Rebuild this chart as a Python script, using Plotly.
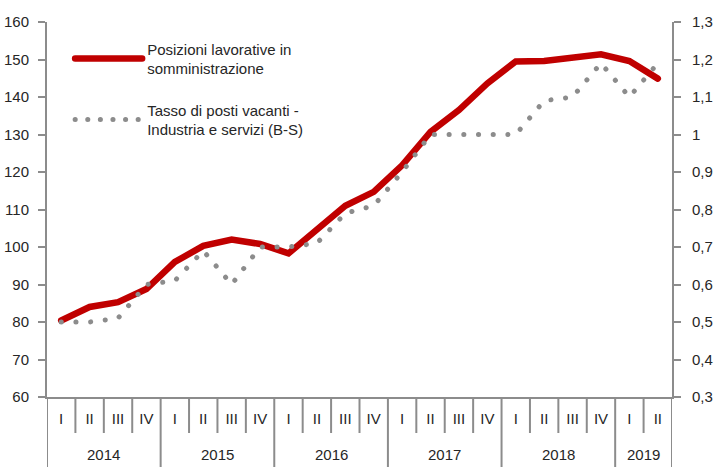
import plotly.graph_objects as go

years = ["2014", "2015", "2016", "2017", "2018", "2019"]
quarters_per_year = [4, 4, 4, 4, 4, 2]
quarter_names = ["I", "II", "III", "IV"]

posizioni = [80.4, 84.0, 85.3, 88.8, 96.0, 100.3, 102.0, 100.8, 98.3, 104.8, 111.0,
             114.7, 121.8, 130.7, 136.5, 143.6, 149.5, 149.6, 150.3, 151.4, 149.6, 144.9]
tasso = [0.50, 0.50, 0.51, 0.60, 0.61, 0.69, 0.60, 0.70, 0.70, 0.71, 0.79,
         0.81, 0.90, 1.00, 1.00, 1.00, 1.00, 1.09, 1.10, 1.19, 1.10, 1.19]

name_red = "Posizioni lavorative in<br>somministrazione"
name_gray = "Tasso di posti vacanti -<br>Industria e servizi (B-S)"

q_labels = []
year_of = []
for y, n in zip(years, quarters_per_year):
    for k in range(n):
        q_labels.append(quarter_names[k])
        year_of.append(y)
idx = list(range(len(q_labels)))

FONT = "Liberation Sans, Arial, sans-serif"
TXT = "#262626"
AX = "#8c8c8c"

fig = go.Figure()
fig.add_trace(go.Scatter(x=idx, y=posizioni, mode="lines", name=name_red,
                         line=dict(color="#c00000", width=6.5), legendgroup="a",
                         yaxis="y"))
fig.add_trace(go.Scatter(x=idx, y=tasso, mode="lines", name=name_gray,
                         line=dict(color="#8c8c8c", width=5, dash="5px,10px"),
                         legendgroup="b", yaxis="y2"))

# separators under the category axis
shapes = []
start = 0
bounds_year = [-0.5]
for n in quarters_per_year:
    start += n
    bounds_year.append(start - 0.5)
for b in [i - 0.5 for i in range(1, len(idx))]:
    if b in bounds_year:
        continue
    shapes.append(dict(type="line", xref="x", yref="paper", x0=b, x1=b, y0=0, y1=-0.096,
                       line=dict(color=AX, width=2)))
for b in bounds_year:
    shapes.append(dict(type="line", xref="x", yref="paper", x0=b, x1=b, y0=0, y1=-0.19,
                       line=dict(color=AX, width=2)))

annotations = []
start = 0
for y, n in zip(years, quarters_per_year):
    center = start + (n - 1) / 2
    annotations.append(dict(x=center, y=-0.154, xref="x", yref="paper", text=y,
                            showarrow=False, font=dict(family=FONT, size=15, color=TXT),
                            yanchor="middle"))
    start += n

fig.update_layout(
    width=727, height=467,
    margin=dict(l=47, r=55, t=22, b=70, autoexpand=False),
    paper_bgcolor="white", plot_bgcolor="white",
    separators=", ",
    font=dict(family=FONT, size=15, color=TXT),
    showlegend=True,
    legend=dict(x=0.037, y=0.972, xanchor="left", yanchor="top", bgcolor="rgba(0,0,0,0)",
                font=dict(family=FONT, size=15, color=TXT), tracegroupgap=19,
                itemwidth=67),
    xaxis=dict(range=[-0.5, len(idx) - 0.5], tickmode="array", tickvals=idx, ticktext=q_labels,
               showline=True, linecolor=AX, linewidth=2, ticks="", showgrid=False,
               zeroline=False, ticklabelstandoff=7, automargin=False,
               tickfont=dict(family=FONT, size=15, color=TXT)),
    yaxis=dict(range=[60, 160], dtick=10, showline=True, linecolor=AX, linewidth=2,
               ticks="outside", ticklen=7, tickcolor=AX, tickwidth=2, showgrid=False,
               zeroline=False, automargin=False, ticklabelstandoff=6,
               tickfont=dict(family=FONT, size=15, color=TXT)),
    yaxis2=dict(range=[0.3, 1.3], dtick=0.1, overlaying="y", side="right", showline=True,
                linecolor=AX, linewidth=2, ticks="outside", ticklen=7, tickcolor=AX,
                tickwidth=2, showgrid=False, zeroline=False, automargin=False,
                ticklabelstandoff=8,
                tickfont=dict(family=FONT, size=15, color=TXT)),
    shapes=shapes,
    annotations=annotations,
)

post = """
document.body.style.margin = '0';
document.body.style.padding = '0';
var gd = document.getElementById('{plot_id}');
function fixDots(){
  gd.querySelectorAll('.scatterlayer .trace path.js-line').forEach(function(p){
    p.style.strokeLinecap = 'round';
    if (p.style.strokeDasharray && p.style.strokeDasharray !== 'none' && p.style.strokeDasharray !== '') {
      p.style.strokeDasharray = '0.1px, 14.6px';
    }
  });
  gd.querySelectorAll('.legend .traces path.js-line').forEach(function(p){
    p.style.strokeLinecap = 'round';
    if (p.style.strokeDasharray && p.style.strokeDasharray !== 'none' && p.style.strokeDasharray !== '') {
      p.style.strokeDasharray = '0.1px, 12.5px';
    }
  });
}
fixDots();
gd.on('plotly_afterplot', fixDots);
"""

fig.write_html("out.html", post_script=post, config={"displayModeBar": False})
